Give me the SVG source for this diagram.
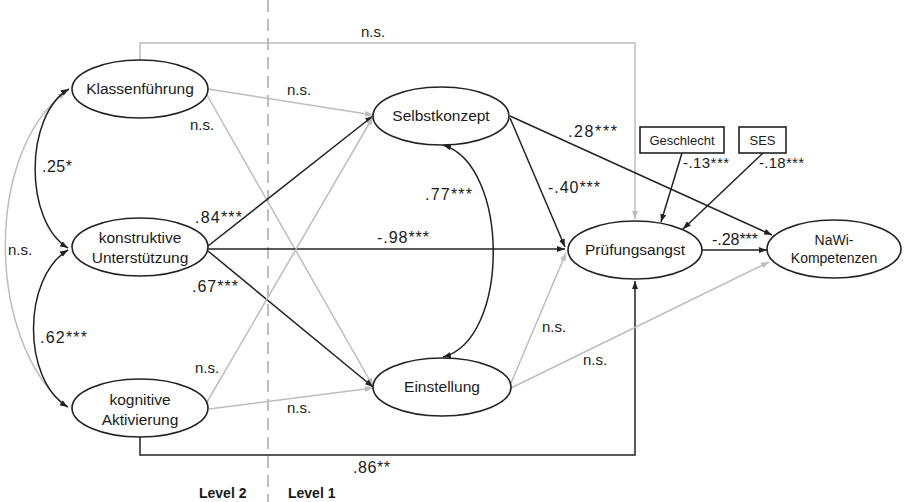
<svg xmlns="http://www.w3.org/2000/svg" width="904" height="502" viewBox="0 0 904 502">
<style>
text{font-family:"Liberation Sans",Arial,sans-serif;fill:#1a1a1a}
.node{font-size:15.5px;text-anchor:middle}
.lbl{font-size:15px}
.num{font-size:16px}
.sm{font-size:15px}
.lvl{font-size:14px;font-weight:bold}
.el{fill:#fff;stroke:#222;stroke-width:1.6}
.box{fill:#fff;stroke:#222;stroke-width:1.6}
.k{fill:none;stroke:#222;stroke-width:1.5;marker-end:url(#ak)}
.g{fill:none;stroke:#bdbdbd;stroke-width:1.5;marker-end:url(#ag)}
.kb{fill:none;stroke:#222;stroke-width:1.5;marker-start:url(#ak);marker-end:url(#ak)}
.gb{fill:none;stroke:#bdbdbd;stroke-width:1.5;marker-start:url(#ag);marker-end:url(#ag)}
</style>
<defs>
<marker id="ak" viewBox="0 0 8 6" refX="8" refY="3" markerWidth="8" markerHeight="6" markerUnits="userSpaceOnUse" orient="auto-start-reverse"><path d="M0,0 L8,3 L0,6 z" fill="#222"/></marker>
<marker id="ag" viewBox="0 0 8 6" refX="8" refY="3" markerWidth="8" markerHeight="6" markerUnits="userSpaceOnUse" orient="auto-start-reverse"><path d="M0,0 L8,3 L0,6 z" fill="#bdbdbd"/></marker>
</defs>
<line x1="268" y1="0" x2="268" y2="502" stroke="#bdbdbd" stroke-width="2" stroke-dasharray="12 7"/>
<g id="connectors">
<path class="g" d="M140,60 V43 H635 V219"/>
<path class="k" d="M140,437 V455 H635 V281"/>
<path class="gb" d="M66,92 C-15,150 -15,340 67,407"/>
<path class="kb" d="M69,89 C24,115 24,222 68,248"/>
<path class="kb" d="M68,250 C22,278 22,380 68,407"/>
<path class="kb" d="M443,145 C510,165 510,340 443,357"/>
<line class="g" x1="208" y1="89" x2="373" y2="115"/>
<line class="g" x1="207" y1="95" x2="373" y2="386"/>
<line class="k" x1="208" y1="246" x2="373" y2="116"/>
<line class="k" x1="208" y1="249" x2="565" y2="249"/>
<line class="k" x1="208" y1="251" x2="373" y2="387"/>
<line class="g" x1="207" y1="402" x2="373" y2="117"/>
<line class="g" x1="209" y1="409" x2="373" y2="388"/>
<line class="k" x1="510" y1="118" x2="565" y2="247"/>
<line class="k" x1="510" y1="116" x2="772" y2="235"/>
<line class="g" x1="511" y1="383" x2="566" y2="253"/>
<line class="g" x1="511" y1="388" x2="769" y2="262"/>
<line class="k" x1="702" y1="250" x2="767" y2="250"/>
<line class="k" x1="682" y1="153" x2="661" y2="222"/>
<line class="k" x1="763" y1="153" x2="683" y2="229"/>
</g>
<g id="n-klassen"><ellipse class="el" cx="140" cy="89" rx="68" ry="29"/><text class="node" x="140" y="94">Klassenführung</text></g>
<g id="n-konstruktiv"><ellipse class="el" cx="140" cy="247" rx="68" ry="29"/><text class="node" x="140" y="243">konstruktive</text><text class="node" x="140" y="263">Unterstützung</text></g>
<g id="n-kognitiv"><ellipse class="el" cx="140" cy="408" rx="68" ry="29"/><text class="node" x="140" y="405">kognitive</text><text class="node" x="140" y="425">Aktivierung</text></g>
<g id="n-selbst"><ellipse class="el" cx="441" cy="116" rx="68" ry="29"/><text class="node" x="441" y="121">Selbstkonzept</text></g>
<g id="n-einst"><ellipse class="el" cx="442" cy="387" rx="69" ry="29"/><text class="node" x="442" y="392">Einstellung</text></g>
<g id="n-pruef"><ellipse class="el" cx="635" cy="250" rx="67" ry="29"/><text class="node" x="635" y="255">Prüfungsangst</text></g>
<g id="n-nawi"><ellipse class="el" cx="834" cy="249" rx="67" ry="29"/><text class="node" x="834" y="245" style="font-size:14px">NaWi-</text><text class="node" x="834" y="263" style="font-size:14px">Kompetenzen</text></g>
<g id="n-geschlecht"><rect class="box" x="640" y="127" width="84" height="26"/><text class="node" x="682" y="145" style="font-size:13px">Geschlecht</text></g>
<g id="n-ses"><rect class="box" x="739" y="127" width="47" height="26"/><text class="node" x="762.5" y="145" style="font-size:13px">SES</text></g>
<g id="labels">
<text class="lbl" x="361" y="37">n.s.</text>
<text class="lbl" x="287" y="95">n.s.</text>
<text class="lbl" x="190" y="130">n.s.</text>
<text class="num" x="42" y="172" textLength="30" lengthAdjust="spacing">.25*</text>
<text class="num" x="195" y="223" textLength="47" lengthAdjust="spacing">.84***</text>
<text class="lbl" x="8" y="255">n.s.</text>
<text class="num" x="192" y="292" textLength="46" lengthAdjust="spacing">.67***</text>
<text class="num" x="40" y="343" textLength="47" lengthAdjust="spacing">.62***</text>
<text class="lbl" x="195" y="373">n.s.</text>
<text class="lbl" x="287" y="413">n.s.</text>
<text class="num" x="425" y="200" textLength="47" lengthAdjust="spacing">.77***</text>
<text class="num" x="377" y="243" textLength="52" lengthAdjust="spacing">-.98***</text>
<text class="num" x="548" y="193" textLength="52" lengthAdjust="spacing">-.40***</text>
<text class="num" x="568" y="137" textLength="49" lengthAdjust="spacing">.28***</text>
<text class="lbl" x="542" y="332">n.s.</text>
<text class="lbl" x="583" y="365">n.s.</text>
<text class="num" x="353" y="473" textLength="37" lengthAdjust="spacing">.86**</text>
<text class="num" x="712" y="245" textLength="46" lengthAdjust="spacing">-.28***</text>
<text class="sm" x="683" y="168" textLength="46" lengthAdjust="spacing">-.13***</text>
<text class="sm" x="759" y="168" textLength="45" lengthAdjust="spacing">-.18***</text>
<text class="lvl" x="199" y="498">Level 2</text>
<text class="lvl" x="288" y="498">Level 1</text>
</g>
</svg>
